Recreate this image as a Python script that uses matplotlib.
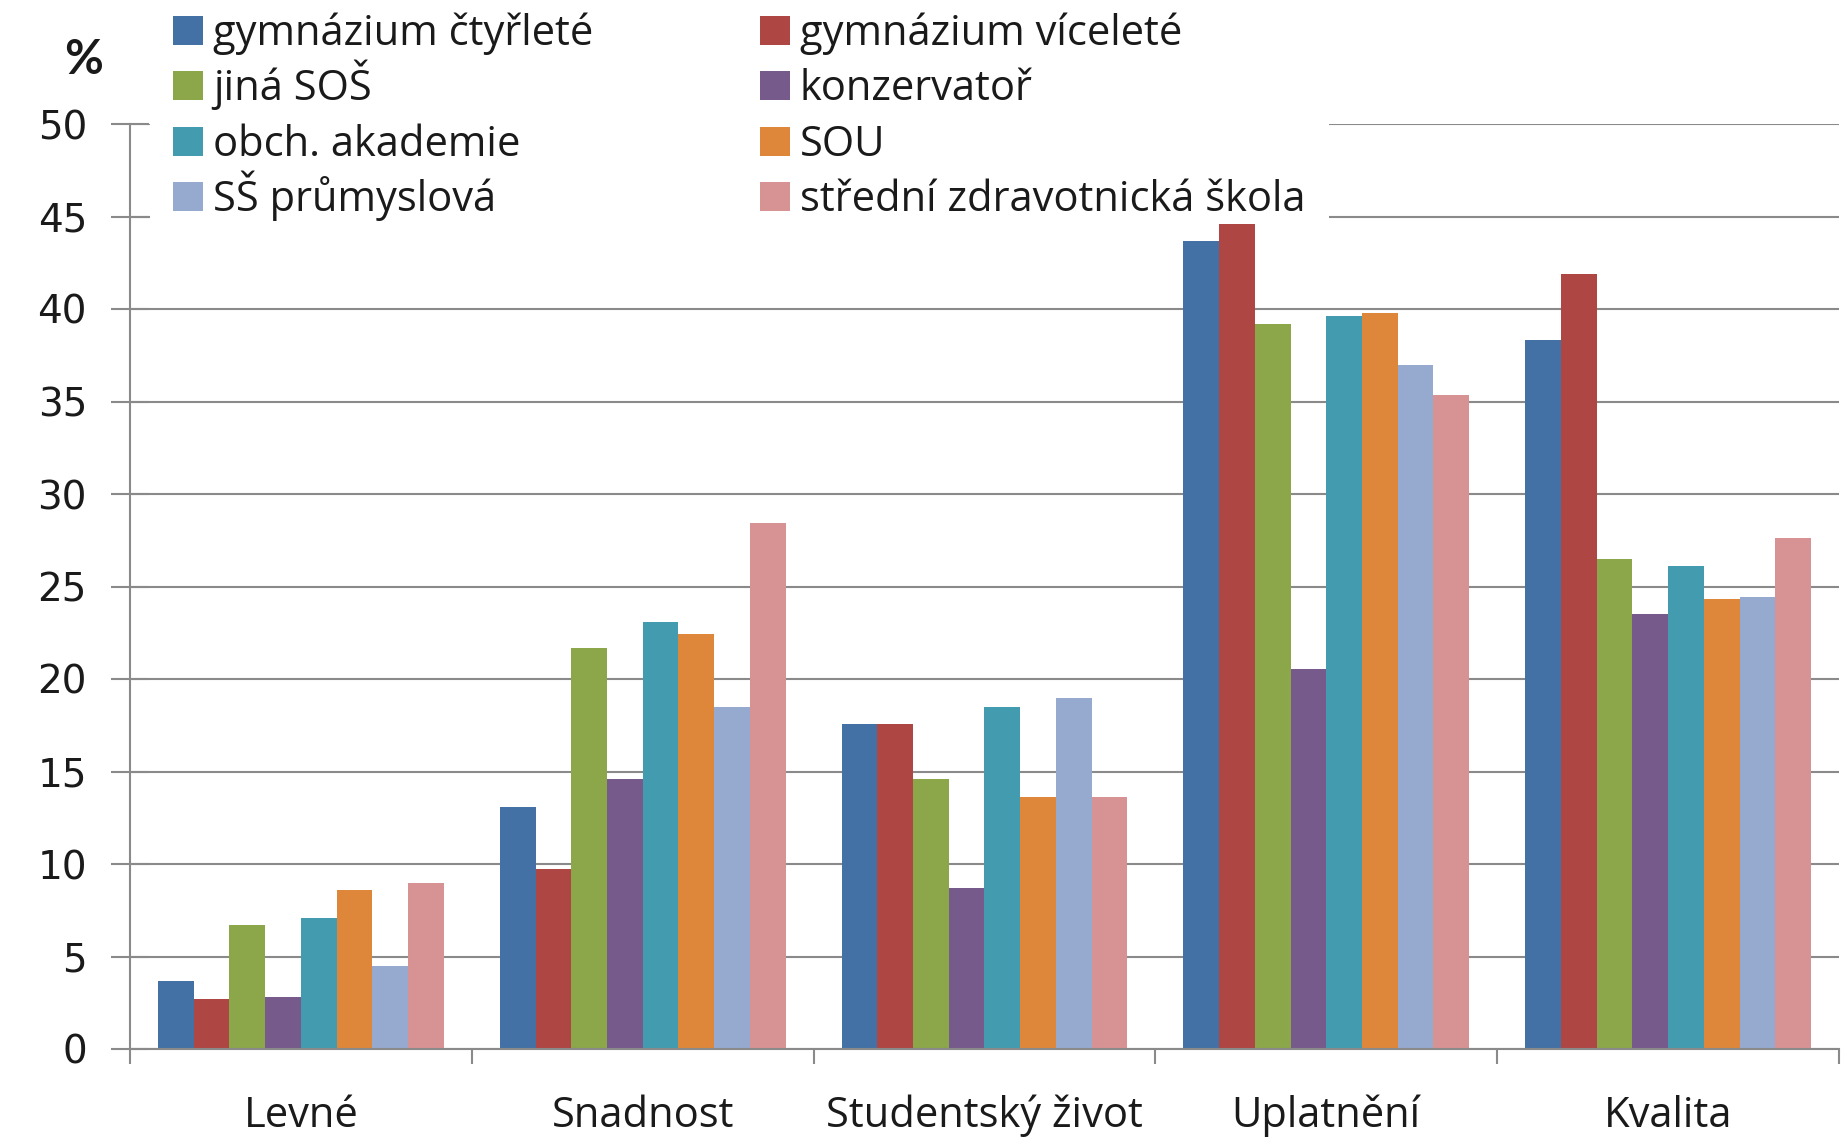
import matplotlib
matplotlib.use("Agg")
import matplotlib.pyplot as plt
from matplotlib.patches import Rectangle
import numpy as np

categories = ["Levné", "Snadnost", "Studentský život", "Uplatnění", "Kvalita"]
series_names = ["gymnázium čtyřleté", "gymnázium víceleté", "jiná SOŠ", "konzervatoř",
                "obch. akademie", "SOU", "SŠ průmyslová", "střední zdravotnická škola"]
gym4 = [3.7, 13.1, 17.55, 43.7, 38.3]
gym_vic = [2.7, 9.75, 17.55, 44.6, 41.9]
jina_sos = [6.7, 21.7, 14.6, 39.2, 26.5]
konzerv = [2.8, 14.6, 8.7, 20.55, 23.5]
obch_ak = [7.1, 23.1, 18.5, 39.6, 26.1]
sou = [8.6, 22.45, 13.6, 39.8, 24.3]
ss_prum = [4.5, 18.5, 19.0, 37.0, 24.45]
szs = [9.0, 28.45, 13.6, 35.35, 27.6]
values = [gym4, gym_vic, jina_sos, konzerv, obch_ak, sou, ss_prum, szs]
yticks = [0, 5, 10, 15, 20, 25, 30, 35, 40, 45, 50]

colors = ['#4371A6', '#AE4643', '#8CA64A', '#765A8C', '#429BAE', '#DE873B', '#96AAD0', '#D79294']

W, H = 1849, 1138
fig = plt.figure(figsize=(W / 100, H / 100), dpi=100)
ax = fig.add_axes([130 / W, 1 - 1049 / H, 1709 / W, 925 / H])

grey = '#8a8a8a'
txt = '#1a1a1a'
n = len(values)
bw = 0.1045
x = np.arange(len(categories))
bars = []
for i, (vals, c) in enumerate(zip(values, colors)):
    b = ax.bar(x + (i - (n - 1) / 2) * bw, vals, width=bw, color=c, label=series_names[i],
               edgecolor='none', zorder=2)
    bars.append(b)

ax.set_xlim(-0.5, len(categories) - 0.5)
ax.set_ylim(0, 50)
ax.set_yticks(yticks)
ax.set_yticklabels([str(v) for v in yticks], fontsize=28, family='DejaVu Sans', color=txt)
ax.tick_params(axis='y', direction='inout', length=28, width=1.5, color=grey, pad=17)
ax.yaxis.grid(True, color=grey, lw=1.5)
ax.set_axisbelow(True)

ax.set_xticks(x)
ax.set_xticklabels(categories, fontsize=30, family='Open Sans', color=txt)
ax.set_xticks(np.arange(len(categories) + 1) - 0.5, minor=True)
ax.tick_params(axis='x', which='major', length=0, pad=33)
ax.tick_params(axis='x', which='minor', direction='out', length=11, width=1.5, color=grey)

for s in ['top', 'right']:
    ax.spines[s].set_visible(False)
for s in ['left', 'bottom']:
    ax.spines[s].set_color(grey)
    ax.spines[s].set_linewidth(1.5)

# white box behind legend
ax.add_patch(Rectangle((150 / W, 1 - 219 / H), (1329 - 150) / W, 219 / H,
                       transform=fig.transFigure, facecolor='white', edgecolor='none',
                       zorder=1.5, clip_on=False))

# legend: two columns, row-major order as in the original
col_x = [173, 760]
row_top0, row_pitch = 16, 55.3
sq_w, sq_h = 30, 29
for k, (name, c) in enumerate(zip(series_names, colors)):
    col, row = k % 2, k // 2
    top = row_top0 + row * row_pitch
    ax.add_patch(Rectangle((col_x[col] / W, 1 - (top + sq_h) / H), sq_w / W, sq_h / H,
                           transform=fig.transFigure, facecolor=c, edgecolor='none',
                           zorder=5, clip_on=False))
    fig.text((col_x[col] + sq_w + 10) / W, 1 - (top + sq_h) / H, name, fontsize=30,
             family='Open Sans', color=txt, ha='left', va='baseline')

fig.text(84 / W, 1 - 60 / H, "%", fontsize=34, fontweight='bold', family='Lato',
         ha='center', va='center', color=txt)

fig.savefig("out.png", dpi=100, facecolor='white')
